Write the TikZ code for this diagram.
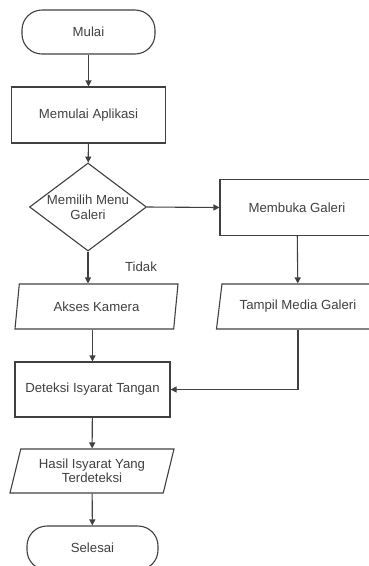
\documentclass[tikz,border=0pt]{standalone}
\usepackage{fontspec}
\setmainfont{Liberation Sans}
\usetikzlibrary{arrows.meta,shapes.geometric}

\begin{document}
\begin{tikzpicture}[x=1pt,y=-1pt,every node/.style={font=\fontsize{13.2}{14.5}\selectfont,text=black!75},
  line/.style={draw=black!75,line width=1.1pt},
  flow/.style={line,-{Triangle[length=6pt,width=6pt]}},
  term/.style={line,rounded corners=20pt,minimum width=133pt,minimum height=44pt,inner sep=0pt},
  proc/.style={line,minimum width=154pt,minimum height=56pt,inner sep=0pt},
  dia/.style={line,diamond,minimum width=117pt,minimum height=88pt,inner sep=0pt},
  io/.style={line,trapezium,trapezium left angle=66,trapezium right angle=114,trapezium stretches body,minimum width=163pt,minimum height=45pt,inner sep=0pt,align=center}]
\useasboundingbox (0,0) rectangle (369,566);
\clip (0,0) rectangle (369,566);
\node[term] (start) at (88.5,32) {Mulai};
\node[proc] (app) at (88.5,115) {Memulai Aplikasi};
\node[dia] (menu) at (88,207) {};\node[align=center] (menutext) at (88,207.5) {Memilih Menu\\Galeri};
\node[proc] (galeri) at (297,207.5) {Membuka Galeri};
\node[io] (kamera) at (96.5,306.5) {Akses Kamera};
\node[io] (media) at (298,306.5) {Tampil Media Galeri};
\node (tidak) at (141,267) {Tidak};
\node[proc,minimum width=155pt,minimum height=55pt] (deteksi) at (92.5,389.5) {Deteksi Isyarat Tangan};
\node[io,minimum width=164pt,minimum height=44pt] (hasil) at (92,471) {Hasil Isyarat Yang\\Terdeteksi};
\node[term,minimum width=131pt] (end) at (92.5,548) {Selesai};
\draw[flow] (start)--(app);
\draw[flow] (app)--(menu);
\draw[flow] (menu.east)--(galeri.west);
\draw[flow] (menu.south)--(menu.south|-kamera.north);
\draw[flow] (galeri)--(media);
\draw[flow] (kamera.south-|deteksi.north)--(deteksi.north);
\draw[flow] (media.south)|-(deteksi.east);
\draw[flow] (deteksi)--(hasil);
\draw[flow] (hasil)--(end);
\end{tikzpicture}
\end{document}
